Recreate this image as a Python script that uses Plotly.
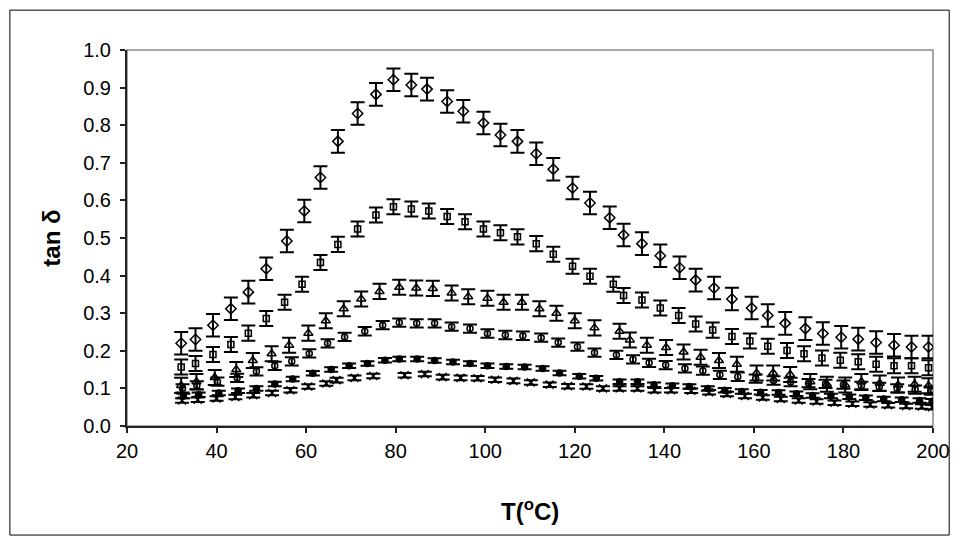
import plotly.graph_objects as go

# temperature (deg C) and tan delta for each of the six samples
t_diamond = [32.1, 35.3, 39.2, 43.2, 47.1, 51.1, 55.7, 59.6, 63.2, 67.1, 71.5, 75.6, 79.5, 83.5, 87.0,
             91.5, 95.1, 99.6, 103.4, 107.2, 111.4, 115.2, 119.5, 123.4, 127.8, 130.9, 135.0, 139.1,
             143.4, 147.0, 151.1, 155.1, 159.5, 163.1, 167.0, 171.5, 175.4, 179.5, 183.3, 187.3,
             191.3, 195.2, 199.0]
tan_diamond = [0.220, 0.230, 0.268, 0.312, 0.356, 0.418, 0.492, 0.572, 0.661, 0.757, 0.831, 0.882,
               0.921, 0.907, 0.896, 0.863, 0.837, 0.806, 0.774, 0.757, 0.724, 0.683, 0.633, 0.593,
               0.554, 0.508, 0.485, 0.453, 0.421, 0.388, 0.367, 0.338, 0.314, 0.294, 0.273, 0.259,
               0.246, 0.236, 0.231, 0.222, 0.215, 0.210, 0.210]

t_square = [32.1, 35.3, 39.2, 43.2, 47.1, 51.1, 55.2, 59.1, 63.2, 67.1, 71.5, 75.6, 79.5, 83.5, 87.4,
            91.5, 95.5, 99.6, 103.4, 107.2, 111.4, 115.2, 119.5, 123.4, 128.6, 130.9, 135.0, 139.1,
            143.2, 147.0, 150.8, 155.1, 159.1, 163.1, 167.4, 171.2, 175.2, 179.3, 183.3, 187.3,
            191.3, 195.2, 199.0]
tan_square = [0.157, 0.166, 0.190, 0.217, 0.247, 0.286, 0.329, 0.377, 0.435, 0.483, 0.524, 0.561,
              0.583, 0.577, 0.572, 0.557, 0.543, 0.524, 0.514, 0.503, 0.485, 0.457, 0.425, 0.398,
              0.377, 0.347, 0.335, 0.314, 0.294, 0.271, 0.255, 0.238, 0.226, 0.212, 0.201, 0.192,
              0.181, 0.175, 0.171, 0.164, 0.160, 0.160, 0.155]

t_triangle = [32.1, 35.5, 39.6, 44.4, 48.1, 52.3, 56.2, 60.5, 64.4, 68.4, 72.3, 76.4, 80.8, 84.6, 88.3,
              92.5, 96.2, 100.5, 104.1, 108.2, 112.1, 115.9, 120.0, 124.4, 130.0, 132.3, 136.1, 140.4,
              144.3, 148.1, 152.2, 156.2, 160.6, 164.3, 168.1, 172.6, 176.3, 180.4, 184.0, 188.1,
              192.2, 195.9, 199.0]
tan_triangle = [0.108, 0.118, 0.129, 0.150, 0.174, 0.192, 0.215, 0.247, 0.280, 0.312, 0.338, 0.358,
                0.369, 0.367, 0.366, 0.354, 0.344, 0.340, 0.329, 0.329, 0.312, 0.300, 0.280, 0.261,
                0.252, 0.229, 0.215, 0.209, 0.197, 0.183, 0.174, 0.164, 0.141, 0.141, 0.137, 0.118,
                0.111, 0.109, 0.118, 0.114, 0.109, 0.111, 0.107]

t_circle = [32.4, 35.6, 40.2, 44.6, 48.9, 53.0, 56.8, 60.7, 64.8, 68.6, 73.1, 77.1, 80.8, 84.7, 88.7,
            92.5, 96.6, 100.5, 104.5, 108.4, 112.5, 116.3, 120.6, 124.4, 129.3, 133.0, 136.6, 140.3,
            144.6, 148.6, 152.4, 156.4, 160.4, 164.4, 168.2, 172.2, 176.0, 180.0, 184.0, 188.0,
            192.0, 196.0, 199.5]
tan_circle = [0.100, 0.108, 0.118, 0.128, 0.145, 0.160, 0.172, 0.193, 0.220, 0.237, 0.252, 0.268,
              0.275, 0.273, 0.273, 0.264, 0.259, 0.246, 0.242, 0.240, 0.235, 0.222, 0.211, 0.195,
              0.189, 0.177, 0.168, 0.162, 0.153, 0.147, 0.136, 0.131, 0.126, 0.121, 0.117, 0.114,
              0.112, 0.110, 0.107, 0.104, 0.100, 0.097, 0.094]

t_dot = [32.6, 36.0, 40.5, 44.8, 48.9, 53.0, 57.0, 61.5, 65.6, 69.6, 73.7, 77.6, 80.8, 84.8, 88.7,
         92.8, 96.6, 100.5, 104.7, 108.8, 112.8, 116.6, 121.0, 124.8, 130.0, 134.0, 137.7, 141.8,
         145.6, 149.7, 153.5, 157.3, 161.5, 165.5, 169.5, 173.1, 177.2, 181.3, 185.0, 189.0,
         193.0, 197.0, 199.8]
tan_dot = [0.080, 0.083, 0.088, 0.094, 0.100, 0.112, 0.125, 0.140, 0.150, 0.160, 0.166, 0.175,
           0.178, 0.178, 0.174, 0.170, 0.166, 0.160, 0.158, 0.157, 0.153, 0.141, 0.132, 0.127,
           0.118, 0.118, 0.110, 0.107, 0.105, 0.100, 0.095, 0.092, 0.090, 0.089, 0.086, 0.081,
           0.080, 0.078, 0.075, 0.072, 0.070, 0.068, 0.066]

t_cross = [32.3, 35.8, 40.0, 44.2, 48.2, 52.4, 56.5, 60.5, 64.5, 66.8, 70.8, 75.0, 82.0, 86.5, 90.5,
           94.5, 98.3, 102.2, 106.3, 110.2, 114.4, 118.5, 122.6, 126.3, 130.0, 134.0, 137.8, 141.5,
           146.0, 150.0, 154.0, 158.0, 162.0, 166.0, 170.0, 174.0, 178.0, 182.0, 186.0, 190.0,
           194.0, 197.5, 199.8]
tan_cross = [0.068, 0.070, 0.073, 0.077, 0.082, 0.088, 0.095, 0.105, 0.113, 0.122, 0.128, 0.133,
             0.135, 0.138, 0.130, 0.128, 0.127, 0.123, 0.120, 0.116, 0.110, 0.106, 0.105, 0.100,
             0.100, 0.100, 0.095, 0.095, 0.094, 0.090, 0.085, 0.080, 0.076, 0.072, 0.068, 0.065,
             0.062, 0.059, 0.057, 0.055, 0.053, 0.052, 0.050]

# error bar half-heights per series
err_diamond = 0.03
err_square = 0.02
err_triangle = 0.02
err_circle = 0.011
err_dot = 0.006
err_cross = 0.006

FONT = "Arial, Liberation Sans, sans-serif"

series = [
    (t_cross, tan_cross, err_cross, "x-thin-open", 8),
    (t_dot, tan_dot, err_dot, "circle", 6),
    (t_circle, tan_circle, err_circle, "circle-open", 6),
    (t_triangle, tan_triangle, err_triangle, "triangle-up-open", 8),
    (t_square, tan_square, err_square, "square-open", 6),
    (t_diamond, tan_diamond, err_diamond, "diamond-open", 8),
]

fig = go.Figure()
for xs, ys, err, sym, size in series:
    fig.add_trace(go.Scatter(
        x=xs, y=ys, mode="markers",
        marker=dict(symbol=sym, size=size, color="black", line=dict(color="black", width=1.5)),
        error_y=dict(type="constant", value=err, color="black", thickness=2, width=7),
        showlegend=False,
    ))

# grey frame round the plot area, black frame round the whole chart
fig.add_shape(type="rect", xref="paper", yref="paper", x0=0, y0=0, x1=1, y1=1,
              line=dict(color="#888888", width=1.5), layer="below")
fig.add_shape(type="rect", xref="paper", yref="paper", x0=-0.1453, y0=-0.29, x1=1.0201, y1=1.106,
              line=dict(color="black", width=1), layer="below")

fig.add_annotation(text="<b>tan δ</b>", textangle=-90, xref="paper", yref="paper",
                   x=-0.0947, y=0.5, xanchor="center", yanchor="middle", showarrow=False,
                   font=dict(family=FONT, size=24, color="black"))
fig.add_annotation(text="<b>T(<sup>o</sup>C)</b>", xref="paper", yref="paper",
                   x=0.5, y=-0.2234, xanchor="center", yanchor="middle", showarrow=False,
                   font=dict(family=FONT, size=24, color="black"))

fig.update_layout(
    width=962, height=544,
    margin=dict(l=127, r=25, t=50, b=118),
    plot_bgcolor="white", paper_bgcolor="white",
    font=dict(family=FONT, size=20, color="black"),
    xaxis=dict(range=[20, 200], tick0=20, dtick=20, showgrid=False, zeroline=False,
               showline=True, linecolor="#222222", linewidth=2, ticks="outside", ticklen=5,
               tickcolor="#222222", tickwidth=1.5, ticklabelstandoff=1),
    yaxis=dict(range=[0, 1.0], tick0=0, dtick=0.1, tickformat=".1f", showgrid=False, zeroline=False,
               showline=True, linecolor="#222222", linewidth=2, ticks="outside", ticklen=5,
               tickcolor="#222222", tickwidth=1.5, ticklabelstandoff=5),
)

fig.write_html("out.html", config={"displayModeBar": False},
               post_script="document.body.style.margin='0';")
